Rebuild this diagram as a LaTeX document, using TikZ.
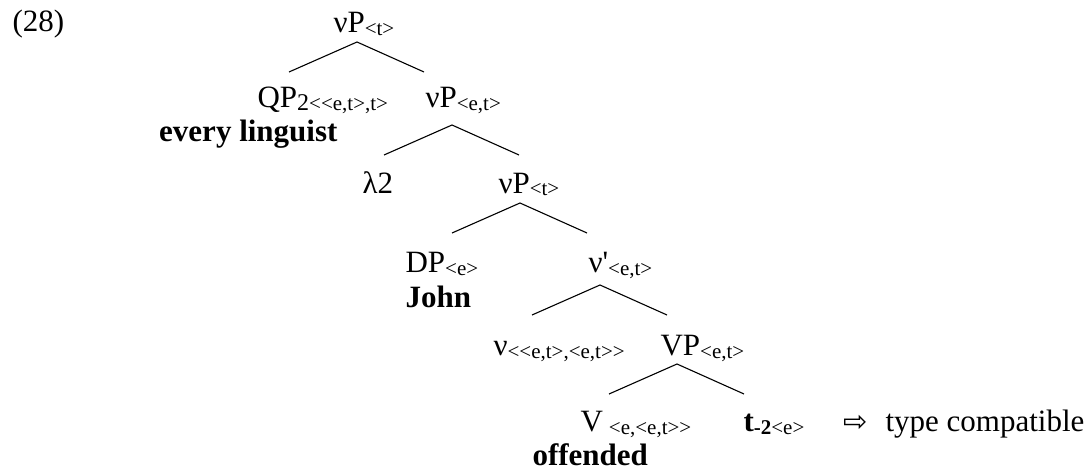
\documentclass[tikz,border=0pt]{standalone}
\usepackage{fontspec}
\setmainfont{Liberation Serif}[Ligatures=TeXOff]
\newfontfamily\arrowfont{DejaVu Sans}
\newcommand{\typ}[1]{\raisebox{-1.5pt}{\fontsize{10.5}{12}\selectfont #1}}
\newcommand{\idx}[1]{\raisebox{-1.5pt}{\fontsize{12}{12}\selectfont #1}}
\tikzset{
    branch/.style={
        insert path={
            (#1) ++(-68,30) -- (#1) -- ++(67,30)   % left leg, apex, right leg
        }
    }
}

\begin{document}
\begin{tikzpicture}[x=0.5pt,y=-0.5pt,line width=0.55pt]
  % Styles
    \tikzstyle{every node}=[inner sep=0pt,anchor=base west,font=\fontsize{15.5}{18}\selectfont]

  % The graphic
    \useasboundingbox (0,0) rectangle (1090,470);

    \node (ex) at (12,32) {(28)};

    \node (vp1) at (333,33) {νP\typ{<t>}};
    \node (qp) at (257,108) {QP\idx{2}\typ{<<e,t>,t>}};
    \node[anchor=base east] (ql) at (338,142) {\bfseries every linguist};
    \node (vp2) at (425,108) {νP\typ{<e,t>}};
    \node (lam) at (362,193) {λ2};
    \node (vp3) at (498,193) {νP\typ{<t>}};
    \node (dp) at (405,272) {DP\typ{<e>}};
    \node (john) at (405,307) {\bfseries John};
    \node (vbar) at (588,272) {ν\textquotesingle\typ{<e,t>}};
    \node (vhead) at (493,355) {ν\typ{<<e,t>,<e,t>>}};
    \node (vp4) at (660,355) {VP\typ{<e,t>}};
    \node (verb) at (580,431) {V\kern3pt\typ{<e,<e,t>>}};
    \node (off) at (532,465) {\bfseries offended};
    \node (trace) at (743,431) {\textbf{t}\typ{\bfseries -2}\typ{<e>}};
    \node (arr) at (843,431) {\arrowfont\fontsize{14.5}{14.5}\selectfont ⇨};
    \node (tc) at (885,431) {type compatible};

  % branches
    \coordinate (b1) at (357,42);
    \coordinate (b2) at (452,125);
    \coordinate (b3) at (520,203);
    \coordinate (b4) at (600,285);
    \coordinate (b5) at (677,364);
    \foreach \b in {b1,b2,b3,b4,b5}
      \draw [branch=\b];
\end{tikzpicture}
\end{document}
